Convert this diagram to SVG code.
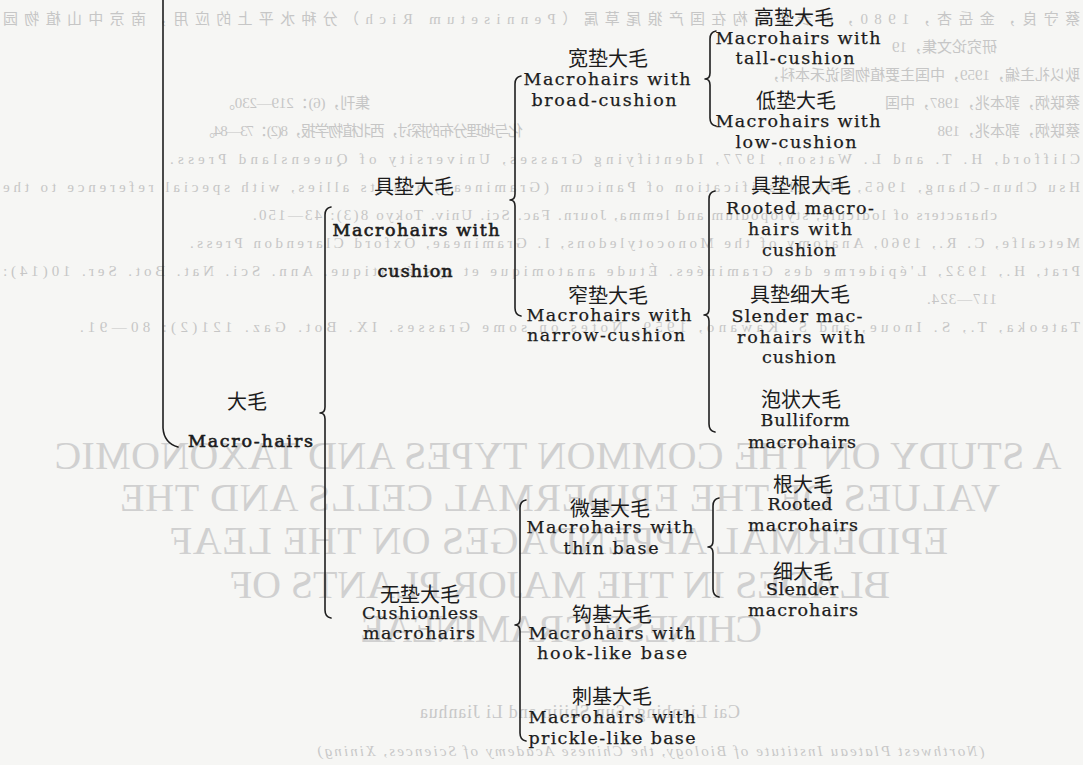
<svg xmlns="http://www.w3.org/2000/svg" width="1083" height="765" viewBox="0 0 1083 765">
<style>
.en{font-family:"DejaVu Serif","Liberation Serif",serif;font-size:17.5px;fill:#1c1c1c;stroke:#1c1c1c;stroke-width:0.25;text-anchor:middle}
.cn{font-family:"Noto Sans CJK SC",sans-serif;font-size:20px;fill:#1c1c1c;text-anchor:middle}
.heavy{stroke-width:0.6}
.br{fill:none;stroke:#1e1e1e;stroke-width:1.6;stroke-linecap:round;stroke-linejoin:round}
.ghost{font-family:"Liberation Serif",serif;font-size:40px;fill:#d0d0d0;text-anchor:middle}
.gref{font-family:"Liberation Serif","Noto Sans CJK SC",serif;font-size:15px;fill:#c6c6c6}
.gsm{font-family:"Liberation Serif",serif;font-size:18px;fill:#c8c8c8;text-anchor:middle}
</style>
<rect width="1083" height="765" fill="#f6f6f4"/>

<g id="ghost-title">
<text class="ghost" x="558" y="469" textLength="1007" transform="translate(1116,0) scale(-1,1)">A STUDY ON THE COMMON TYPES AND TAXONOMIC</text>
<text class="ghost" x="560" y="511" textLength="880" transform="translate(1120,0) scale(-1,1)">VALUES OF THE EPIDERMAL CELLS AND THE</text>
<text class="ghost" x="559" y="554" textLength="778" transform="translate(1118,0) scale(-1,1)">EPIDERMAL APPENDAGES ON THE LEAF</text>
<text class="ghost" x="560" y="598" textLength="660" transform="translate(1120,0) scale(-1,1)">BLADES IN THE MAJOR PLANTS OF</text>
<text class="ghost" x="561" y="642" textLength="402" transform="translate(1122,0) scale(-1,1)">CHINESE GRAMINEAE</text>
<text class="gsm" x="580" y="718" textLength="320" transform="translate(1160,0) scale(-1,1)">Cai Lianbing, Sun Shijin and Li Jianhua</text>
<text class="gsm" x="651" y="756" textLength="667" style="font-size:15px;font-style:italic" transform="translate(1302,0) scale(-1,1)">(Northwest Plateau Institute of Biology, the Chinese Academy of Sciences, Xining)</text>
</g>

<g id="ghost-refs" transform="matrix(-1,0,0,1,1083,0)">
<text class="gref" x="3" y="24" textLength="1077">蔡守良，金岳杏，1980，叶表皮结构在国产狼尾草属（Pennisetum Rich）分种水平上的应用，南京中山植物园</text>
<text class="gref" x="86" y="52">研究论文集，19</text>
<text class="gref" x="3" y="80">耿以礼主编，1959，中国主要植物图说禾本科，</text>
<text class="gref" x="3" y="108">蔡联炳，郭本兆，1987，中国</text>
<text class="gref" x="713" y="108" textLength="150">集刊，(6)：219—230。</text>
<text class="gref" x="3" y="136">蔡联炳，郭本兆，198</text>
<text class="gref" x="560" y="136" textLength="323">化与地理分布的探讨，西北植物学报，8(2)：73—84。</text>
<text class="gref" x="3" y="164" textLength="910">Clifford, H. T. and L. Watson, 1977, Identifying Grasses, University of Queensland Press.</text>
<text class="gref" x="3" y="192" textLength="1077">Hsu Chun-Chang, 1965, The classification of Panicum (Gramineae) and its allies, with special reference to the</text>
<text class="gref" x="86" y="220" textLength="744">characters of lodicule, stylopodium and lemma, Journ. Fac. Sci. Univ. Tokyo 8(3): 43—150.</text>
<text class="gref" x="3" y="248" textLength="890">Metcalfe, C. R., 1960, Anatomy of the Monocotyledons, I. Gramineae, Oxford Clarendon Press.</text>
<text class="gref" x="3" y="276" textLength="1077">Prat, H., 1932, L'épiderme des Graminées. Étude anatomique et systématique. Ann. Sci. Nat. Bot. Ser. 10(14):</text>
<text class="gref" x="86" y="304" textLength="70">117—324.</text>
<text class="gref" x="3" y="332" textLength="1000">Tateoka, T., S. Inoue, and S. Kawano, 1959, Notes on some Grasses. IX. Bot. Gaz. 121(2): 80—91.</text>
</g>

<g id="connectors">
<path class="br" d="M163,0 V428 Q164,443 178,447"/>
<path class="br" d="M331,207 Q325,208 325,215 V407 Q325,413 320,413 Q325,413 325,419 V610 Q325,617 331,618"/>
<path class="br" d="M521,76 Q515,77 515,84 V194 Q515,200 510,200 Q515,200 515,206 V308 Q515,315 521,316"/>
<path class="br" d="M716,31 Q710,32 710,39 V73 Q710,79 705,79 Q710,79 710,85 V118 Q710,125 716,126"/>
<path class="br" d="M715,191 Q709,192 709,199 V309 Q709,315 704,315 Q709,315 709,321 V424 Q709,431 715,432"/>
<path class="br" d="M526,500 Q520,501 520,508 V619 Q520,625 515,625 Q520,625 520,631 V733 Q520,740 526,741"/>
<path class="br" d="M719,498 Q713,499 713,506 V541 Q713,547 708,547 Q713,547 713,553 V589 Q713,596 719,597"/>
</g>

<g id="n-macrohairs">
<text class="cn" x="247" y="409">大毛</text>
<text class="en heavy" x="188" y="447" textLength="125" style="text-anchor:start">Macro-hairs</text>
</g>
<g id="n-cushion">
<text class="cn" x="414" y="194">具垫大毛</text>
<text class="en heavy" x="416" y="236" textLength="167">Macrohairs with</text>
<text class="en heavy" x="415" y="277" textLength="75">cushion</text>
</g>
<g id="n-broad">
<text class="cn" x="608" y="66">宽垫大毛</text>
<text class="en" x="607" y="85" textLength="167">Macrohairs with</text>
<text class="en" x="604" y="106" textLength="145">broad-cushion</text>
</g>
<g id="n-tall">
<text class="cn" x="794" y="25">高垫大毛</text>
<text class="en" x="798" y="44" textLength="165">Macrohairs with</text>
<text class="en" x="795" y="64" textLength="119">tall-cushion</text>
</g>
<g id="n-low">
<text class="cn" x="796" y="108">低垫大毛</text>
<text class="en" x="798" y="127" textLength="165">Macrohairs with</text>
<text class="en" x="796" y="148" textLength="121">low-cushion</text>
</g>
<g id="n-narrow">
<text class="cn" x="608" y="303">窄垫大毛</text>
<text class="en" x="609" y="321" textLength="165">Macrohairs with</text>
<text class="en" x="606" y="341" textLength="158">narrow-cushion</text>
</g>
<g id="n-rooted-cushion">
<text class="cn" x="801" y="193">具垫根大毛</text>
<text class="en" x="800" y="214" textLength="148">Rooted macro-</text>
<text class="en" x="800" y="235" textLength="104">hairs with</text>
<text class="en" x="799" y="256" textLength="74">cushion</text>
</g>
<g id="n-slender-cushion">
<text class="cn" x="800" y="302">具垫细大毛</text>
<text class="en" x="797" y="322" textLength="131">Slender mac-</text>
<text class="en" x="801" y="343" textLength="128">rohairs with</text>
<text class="en" x="799" y="363" textLength="74">cushion</text>
</g>
<g id="n-bulliform">
<text class="cn" x="801" y="407">泡状大毛</text>
<text class="en" x="805" y="426" textLength="89">Bulliform</text>
<text class="en" x="802" y="448" textLength="108">macrohairs</text>
</g>
<g id="n-cushionless">
<text class="cn" x="420" y="602">无垫大毛</text>
<text class="en" x="420" y="619" textLength="116">Cushionless</text>
<text class="en" x="419" y="639" textLength="112">macrohairs</text>
</g>
<g id="n-thin">
<text class="cn" x="610" y="516">微基大毛</text>
<text class="en" x="610" y="533" textLength="167">Macrohairs with</text>
<text class="en" x="611" y="554" textLength="95">thin base</text>
</g>
<g id="n-rooted">
<text class="cn" x="803" y="492">根大毛</text>
<text class="en" x="800" y="510" textLength="65">Rooted</text>
<text class="en" x="803" y="531" textLength="110">macrohairs</text>
</g>
<g id="n-slender">
<text class="cn" x="803" y="579">细大毛</text>
<text class="en" x="802" y="595" textLength="72">Slender</text>
<text class="en" x="803" y="616" textLength="110">macrohairs</text>
</g>
<g id="n-hook">
<text class="cn" x="612" y="622">钩基大毛</text>
<text class="en" x="612" y="639" textLength="167">Macrohairs with</text>
<text class="en" x="612" y="659" textLength="150">hook-like base</text>
</g>
<g id="n-prickle">
<text class="cn" x="612" y="704">刺基大毛</text>
<text class="en" x="612" y="723" textLength="167">Macrohairs with</text>
<text class="en" x="612" y="744" textLength="167">prickle-like base</text>
</g>
</svg>
